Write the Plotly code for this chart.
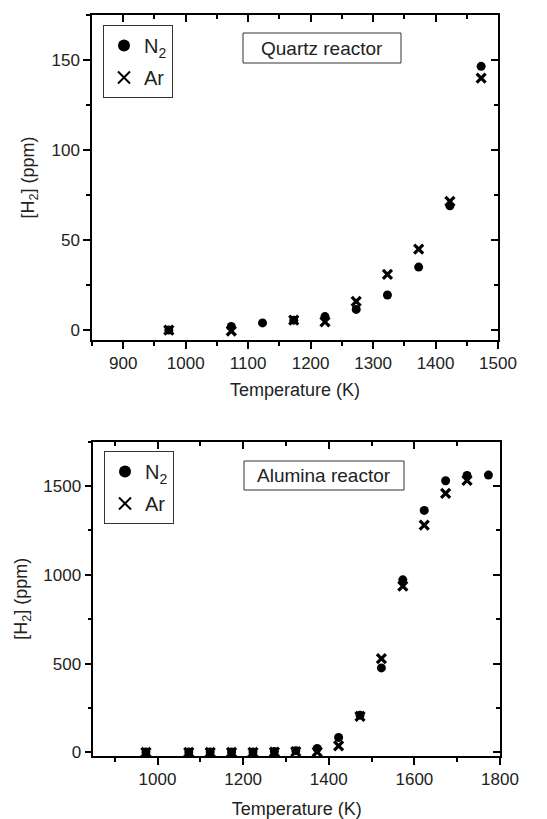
import plotly.graph_objects as go

# Quartz reactor data
q_temp_n2 = [973, 1073, 1123, 1173, 1223, 1273, 1323, 1373, 1423, 1473]
q_h2_n2 = [0, 2, 4, 5.5, 7.5, 11.5, 19.5, 35, 69, 146.5]
q_temp_ar = [973, 1073, 1173, 1223, 1273, 1323, 1373, 1423, 1473]
q_h2_ar = [0, -0.5, 5.5, 4.5, 16, 31, 45, 71.5, 140]

# Alumina reactor data
a_temp_n2 = [973, 1073, 1123, 1173, 1223, 1273, 1323, 1373, 1423, 1473, 1523, 1573, 1623, 1673, 1723, 1773]
a_h2_n2 = [2, 2, 2, 3, 3, 5, 10, 22, 84, 210, 476, 972, 1363, 1530, 1560, 1562]
a_temp_ar = [973, 1073, 1123, 1173, 1223, 1273, 1323, 1373, 1423, 1473, 1523, 1573, 1623, 1673, 1723]
a_h2_ar = [0, 0, 0, 0, 0, 2, 5, 3, 37, 203, 529, 937, 1280, 1459, 1532]

FONT = "Liberation Sans, Arial, sans-serif"
FS = 17      # tick labels
FT = 18      # axis titles
FA = 19      # box annotations
FL = 20      # legend
W, H = 547, 819

def px_x(v):
    return v / W

def px_y(v):
    return 1 - v / H

fig = go.Figure()

circle = dict(symbol="circle", size=9, color="black")
cross = dict(symbol="x-thin", size=9, color="black", line=dict(width=3.2, color="black"))

fig.add_trace(go.Scatter(x=q_temp_n2, y=q_h2_n2, mode="markers", marker=circle,
                         name="N<sub>2</sub>", xaxis="x", yaxis="y", legend="legend", legendgroup="a"))
fig.add_trace(go.Scatter(x=q_temp_ar, y=q_h2_ar, mode="markers", marker=cross,
                         name="Ar", xaxis="x", yaxis="y", legend="legend", legendgroup="b"))
fig.add_trace(go.Scatter(x=a_temp_n2, y=a_h2_n2, mode="markers", marker=circle,
                         name="N<sub>2</sub>", xaxis="x2", yaxis="y2", legend="legend2", legendgroup="c"))
fig.add_trace(go.Scatter(x=a_temp_ar, y=a_h2_ar, mode="markers", marker=cross,
                         name="Ar", xaxis="x2", yaxis="y2", legend="legend2", legendgroup="d"))
# invisible traces to anchor the mirrored inward-tick axes
for xa, ya in [("x3", "y3"), ("x4", "y4")]:
    fig.add_trace(go.Scatter(x=[None], y=[None], xaxis=xa, yaxis=ya, showlegend=False, hoverinfo="skip"))

dom1x = [px_x(92), px_x(498)]
dom1y = [px_y(340), px_y(15)]
dom2x = [px_x(93.3), px_x(500)]
dom2y = [px_y(756), px_y(441.7)]

xr1 = [850, 1500]
yr1 = [-5.5, 175]
xr2 = [850, 1800]
yr2 = [-20, 1750]

axbase = dict(showgrid=False, zeroline=False, linecolor="black", linewidth=1.5,
              tickfont=dict(family=FONT, size=FS, color="#222"), tickcolor="black",
              ticklen=7, tickwidth=1.5, automargin=False)

def main_axes(xdom, ydom, xr, yr, xdt, ydt, xminor, yminor, anchx, anchy):
    xa = dict(axbase, domain=xdom, range=xr, dtick=xdt, tick0=0, ticks="outside", mirror=True,
              showline=True, anchor=anchy,
              minor=dict(dtick=xminor, ticks="outside", ticklen=4, tickwidth=1.5, tickcolor="black"),
              title=dict(text="Temperature (K)", font=dict(family=FONT, size=FT, color="#222")))
    ya = dict(axbase, domain=ydom, range=yr, dtick=ydt, tick0=0, ticks="outside", mirror=True,
              showline=True, anchor=anchx,
              minor=dict(dtick=yminor, ticks="outside", ticklen=4, tickwidth=1.5, tickcolor="black"),
              title=dict(text="[H<sub>2</sub>] (ppm)", font=dict(family=FONT, size=FT, color="#222")))
    return xa, ya

def mirror_axes(xdom, ydom, xr, yr, xdt, ydt, xminor, yminor, overx, overy, anchx, anchy):
    xa = dict(showgrid=False, zeroline=False, domain=xdom, range=xr, dtick=xdt, tick0=0,
              ticks="inside", ticklen=7, tickwidth=1.5, tickcolor="black", showticklabels=False,
              showline=False, side="top", overlaying=overx, anchor=anchy, automargin=False,
              minor=dict(dtick=xminor, ticks="inside", ticklen=4, tickwidth=1.5, tickcolor="black"))
    ya = dict(showgrid=False, zeroline=False, domain=ydom, range=yr, dtick=ydt, tick0=0,
              ticks="inside", ticklen=7, tickwidth=1.5, tickcolor="black", showticklabels=False,
              showline=False, side="right", overlaying=overy, anchor=anchx, automargin=False,
              minor=dict(dtick=yminor, ticks="inside", ticklen=4, tickwidth=1.5, tickcolor="black"))
    return xa, ya

x1, y1 = main_axes(dom1x, dom1y, xr1, yr1, 100, 50, 50, 25, "x", "y")
x1["title"]["standoff"] = 11
y1["title"]["standoff"] = 12
x2, y2 = main_axes(dom2x, dom2y, xr2, yr2, 200, 500, 100, 250, "x2", "y2")
x2["title"]["standoff"] = 19
y2["title"]["standoff"] = 11
x3, y3 = mirror_axes(dom1x, dom1y, xr1, yr1, 100, 50, 50, 25, "x", "y", "x3", "y3")
x4, y4 = mirror_axes(dom2x, dom2y, xr2, yr2, 200, 500, 100, 250, "x2", "y2", "x4", "y4")

legstyle = dict(bordercolor="#333", borderwidth=1, bgcolor="white",
                font=dict(family=FONT, size=FL, color="#222"),
                xanchor="left", yanchor="top", itemsizing="constant", tracegroupgap=3)

fig.update_layout(
    width=W, height=H,
    margin=dict(l=0, r=0, t=0, b=0),
    paper_bgcolor="white", plot_bgcolor="white",
    font=dict(family=FONT, size=FS, color="#222"),
    xaxis=x1, yaxis=y1, xaxis2=x2, yaxis2=y2,
    xaxis3=x3, yaxis3=y3, xaxis4=x4, yaxis4=y4,
    legend=dict(legstyle, x=px_x(103), y=px_y(25)),
    legend2=dict(legstyle, x=px_x(104), y=px_y(451)),
    shapes=[
        dict(type="rect", xref="paper", yref="paper", x0=px_x(243), x1=px_x(401),
             y0=px_y(63), y1=px_y(33), line=dict(color="#333", width=1)),
        dict(type="rect", xref="paper", yref="paper", x0=px_x(244), x1=px_x(404),
             y0=px_y(490), y1=px_y(461), line=dict(color="#333", width=1)),
    ],
    annotations=[
        dict(text="Quartz reactor", xref="paper", yref="paper", x=px_x(322), y=px_y(48),
             xanchor="center", yanchor="middle",
             showarrow=False, font=dict(family=FONT, size=FA, color="#222")),
        dict(text="Alumina reactor", xref="paper", yref="paper", x=px_x(324), y=px_y(475.5),
             xanchor="center", yanchor="middle",
             showarrow=False, font=dict(family=FONT, size=FA, color="#222")),
    ],
    showlegend=True,
)

fig.write_html(
    "out.html",
    config={"displayModeBar": False},
    post_script=("document.body.style.margin='0';"
                 "document.body.style.overflow='hidden';"
                 "document.documentElement.style.overflow='hidden';"),
)
